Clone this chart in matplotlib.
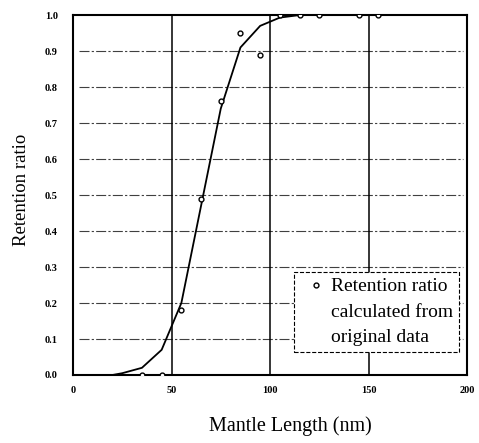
import numpy as np
import matplotlib.pyplot as plt
from matplotlib.lines import Line2D

# Measured retention ratios (open circles)
length_obs = [35, 45, 55, 65, 75, 85, 95, 105, 115, 125, 145, 155]
ratio_obs = [0.0, 0.0, 0.18, 0.49, 0.76, 0.95, 0.89, 1.0, 1.0, 1.0, 1.0, 1.0]

# Fitted selection curve
length_fit = [0, 20, 25, 35, 45, 55, 65, 75, 85, 95, 105, 115, 125]
ratio_fit = [0.0, 0.0, 0.005, 0.02, 0.07, 0.2, 0.47, 0.74, 0.91, 0.97, 0.993, 1.0, 1.0]

xticks = [0, 50, 100, 150, 200]
yticks = np.arange(0, 1.01, 0.1)
legend_lines = ['Retention ratio', 'calculated from', 'original data']

plt.rcParams['font.family'] = ['Liberation Serif', 'DejaVu Serif']

fig = plt.figure(figsize=(4.79, 4.43), dpi=100)
ax = fig.add_axes([0.1524, 0.1535, 0.8226, 0.8125])

ax.plot(length_fit, ratio_fit, color='black', lw=1.3, zorder=3)
ax.plot(length_obs, ratio_obs, 'o', ms=3.5, mfc='white', mec='black', mew=1.0, zorder=4)

ax.set_xlim(0, 200)
ax.set_ylim(0, 1.0)
ax.set_xticks(xticks)
ax.set_yticks(yticks)
ax.set_xticklabels([str(v) for v in xticks], fontsize=7.5, fontweight='bold')
ax.set_yticklabels([f'{v:.1f}' for v in yticks], fontsize=7.5, fontweight='bold')
ax.tick_params(axis='x', length=0, pad=8)
ax.tick_params(axis='y', length=0, pad=11)

# grid: dash-dot horizontals, solid verticals
for y in yticks[1:-1]:
    ax.axhline(y, xmin=0.015, xmax=0.99, color='0.25', lw=0.8, ls=(0, (9, 2, 2, 2)), zorder=1)
for x in xticks[1:-1]:
    ax.axvline(x, color='black', lw=1.1, zorder=1)

for sp in ax.spines.values():
    sp.set_linewidth(1.5)

ax.set_xlabel('Mantle Length (nm)', fontsize=14.5)
ax.xaxis.set_label_coords(0.551, -0.115)
ax.set_ylabel('Retention ratio', fontsize=13.5)
ax.yaxis.set_label_coords(-0.11, 0.515)

# legend: marker on the first line only
handles = [Line2D([], [], ls='none', marker='o', ms=3.5, mfc='white', mec='black', mew=1.0)]
handles += [Line2D([], [], ls='none') for _ in legend_lines[1:]]
leg = ax.legend(handles, legend_lines, loc='lower right', bbox_to_anchor=(0.98, 0.064),
                borderaxespad=0, fontsize=14, frameon=True, fancybox=False,
                handlelength=1.6, handletextpad=0.0, borderpad=0.3, labelspacing=0.4)
fr = leg.get_frame()
fr.set_edgecolor('black')
fr.set_linestyle('--')
fr.set_linewidth(0.8)
fr.set_alpha(1)

fig.savefig('out.png', dpi=100)
